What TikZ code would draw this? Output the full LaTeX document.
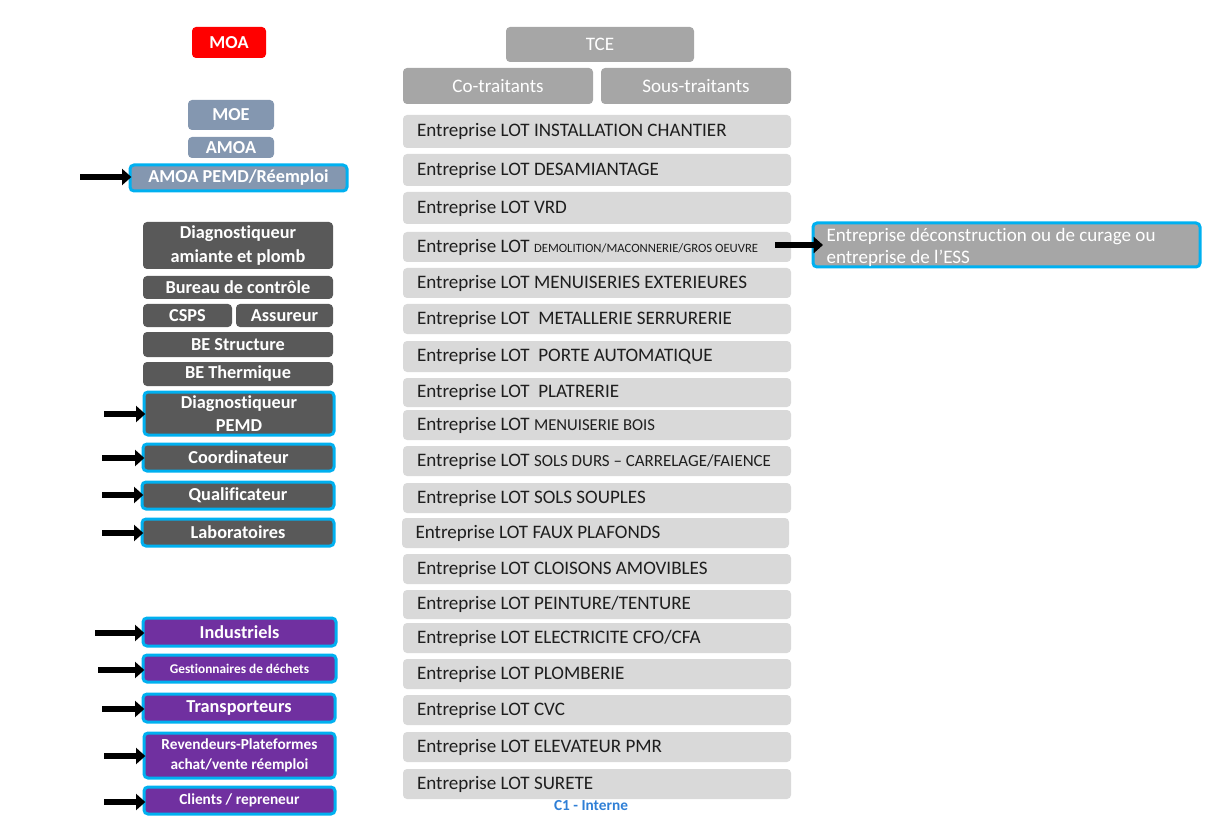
\documentclass[tikz,border=0pt]{standalone}
\usepackage{fontspec}
\setmainfont{Carlito}[Ligatures=NoCommon]
\usetikzlibrary{arrows.meta}
\definecolor{moaRed}{HTML}{FF0000}
\definecolor{slateC}{HTML}{8497B0}
\definecolor{darkC}{HTML}{595959}
\definecolor{purpC}{HTML}{7030A0}
\definecolor{lightC}{HTML}{D9D9D9}
\definecolor{midC}{HTML}{A6A6A6}
\definecolor{blueC}{HTML}{00B0F0}
\definecolor{txtC}{HTML}{1E1E1E}
\definecolor{tagC}{HTML}{2F7FD6}
\newcommand\bx[7]{\node[#6, minimum width={(#4-#2)*0.75pt}, minimum height={(#5-#3)*0.75pt}] (#1) at ({(#2+#4)/2},{(#3+#5)/2}) {#7};}
\tikzset{
  base/.style={rounded corners=3pt, inner sep=0pt, outer sep=0pt, align=center},
  leftf/.style={font=\fontsize{13.7}{18.5}\selectfont\bfseries},
  redbox/.style={base, leftf, fill=moaRed, text=white},
  slatebox/.style={base, leftf, fill=slateC, text=white},
  darkbox/.style={base, leftf, fill=darkC, text=white},
  purpbox/.style={base, leftf, fill=purpC, text=white},
  hl/.style={draw=blueC, line width=2.25pt},
  midbox/.style={base, fill=midC, text=white, font=\fontsize{14.3}{16.5}\selectfont},
  lotbox/.style={base, fill=lightC, text=txtC, align=flush left, text width=270pt, inner xsep=10.5pt, font=\fontsize{14.3}{16.5}\selectfont},
  arr/.style={line width=4pt, -{Triangle[length=7pt,width=12pt]}, black},
}
\begin{document}
\begin{tikzpicture}[x=0.75pt,y=-0.75pt]
\useasboundingbox (0,0) rectangle (1205,816);
% left column
\bx{moa}{192}{27}{266}{58}{redbox}{MOA}
\bx{moe}{188}{100}{274}{130}{slatebox}{MOE}
\bx{amoa}{188}{137}{274}{158}{slatebox}{AMOA}
\bx{amoap}{130}{165}{347}{191}{slatebox,hl}{AMOA PEMD/Réemploi}
\bx{diaga}{143}{222}{333}{269}{darkbox}{Diagnostiqueur\\amiante et plomb}
\bx{bureau}{143}{276}{333}{299}{darkbox}{Bureau de contrôle}
\bx{csps}{143}{304}{232}{327}{darkbox}{CSPS}
\bx{assur}{236}{304}{333}{327}{darkbox}{Assureur}
\bx{bes}{143}{332}{333}{357}{darkbox}{BE Structure}
\bx{bet}{143}{362}{333}{386}{darkbox}{BE Thermique}
\bx{diagp}{144}{392}{334}{435}{darkbox,hl,font=\fontsize{13.7}{17}\selectfont\bfseries}{Diagnostiqueur\\PEMD}
\bx{coord}{143}{444}{334}{471}{darkbox,hl}{Coordinateur}
\bx{qualif}{142}{482}{334}{509}{darkbox,hl}{Qualificateur}
\bx{labo}{142}{519}{334}{546}{darkbox,hl}{Laboratoires}
\bx{indus}{143}{618}{336}{646}{purpbox,hl}{Industriels}
\bx{gest}{143}{655}{336}{682}{purpbox,hl,font=\fontsize{10}{12}\selectfont\bfseries}{Gestionnaires de déchets}
\bx{transp}{143}{694}{335}{722}{purpbox,hl}{Transporteurs}
\bx{revend}{144}{733}{335}{778}{purpbox,hl,font=\fontsize{11.5}{15}\selectfont\bfseries}{Revendeurs-Plateformes\\achat/vente réemploi}
\bx{clients}{144}{787}{335}{814}{purpbox,hl,font=\fontsize{11.5}{14}\selectfont\bfseries}{Clients / repreneur}
% right column
\bx{tce}{506}{27}{694}{62}{midbox}{TCE}
\bx{cot}{403}{68}{593}{104}{midbox}{Co-traitants}
\bx{sous}{601}{68}{791}{104}{midbox}{Sous-traitants}
\bx{l1}{403}{115}{791}{148}{lotbox}{Entreprise LOT INSTALLATION CHANTIER}
\bx{l2}{403}{154}{791}{186}{lotbox}{Entreprise LOT DESAMIANTAGE}
\bx{l3}{403}{192}{791}{224}{lotbox}{Entreprise LOT VRD}
\bx{l4}{403}{232}{791}{262}{lotbox}{Entreprise LOT {\fontsize{9.5}{10}\selectfont DEMOLITION/MACONNERIE/GROS OEUVRE}}
\bx{l5}{403}{268}{791}{298}{lotbox}{Entreprise LOT MENUISERIES EXTERIEURES}
\bx{l6}{403}{304}{791}{334}{lotbox}{Entreprise LOT \ METALLERIE SERRURERIE}
\bx{l7}{403}{341}{791}{372}{lotbox}{Entreprise LOT \ PORTE AUTOMATIQUE}
\bx{l8}{403}{378}{791}{407}{lotbox}{Entreprise LOT \ PLATRERIE}
\bx{l9}{403}{410}{791}{440}{lotbox}{Entreprise LOT {\fontsize{12.5}{14}\selectfont MENUISERIE BOIS}}
\bx{l10}{403}{446}{791}{476}{lotbox}{Entreprise LOT {\fontsize{12.7}{14}\selectfont SOLS DURS – CARRELAGE/FAIENCE}}
\bx{l11}{403}{483}{791}{513}{lotbox}{Entreprise LOT SOLS SOUPLES}
\bx{l12}{402}{518}{789}{548}{lotbox,inner xsep=8.5pt}{Entreprise LOT FAUX PLAFONDS}
\bx{l13}{403}{554}{791}{584}{lotbox}{Entreprise LOT CLOISONS AMOVIBLES}
\bx{l14}{403}{590}{791}{619}{lotbox}{Entreprise LOT PEINTURE/TENTURE}
\bx{l15}{403}{623}{791}{653}{lotbox}{Entreprise LOT ELECTRICITE CFO/CFA}
\bx{l16}{403}{659}{791}{689}{lotbox}{Entreprise LOT PLOMBERIE}
\bx{l17}{403}{695}{791}{725}{lotbox}{Entreprise LOT CVC}
\bx{l18}{403}{732}{791}{762}{lotbox}{Entreprise LOT ELEVATEUR PMR}
\bx{l19}{403}{769}{791}{799}{lotbox}{Entreprise LOT SURETE}
\node[font=\fontsize{11.5}{13}\selectfont\bfseries, text=tagC, inner sep=0pt] (tag) at (591,806) {C1 - Interne};
\bx{decon}{813}{223}{1200}{267}{midbox,hl,align=flush left,text width=270pt,inner xsep=9.5pt,font=\fontsize{14.3}{16.5}\selectfont}{\rule{0pt}{13.5pt}Entreprise déconstruction ou de curage ou\\entreprise de l’ESS}
% arrows
\coordinate (s0) at (80,177);
\coordinate (s1) at (104,414);
\coordinate (s2) at (102,458);
\coordinate (s3) at (102,495);
\coordinate (s4) at (102,533);
\coordinate (s5) at (95,633);
\coordinate (s6) at (98,670);
\coordinate (s7) at (102,709);
\coordinate (s8) at (104,756);
\coordinate (s9) at (104,802);
\coordinate (s10) at (775,245);
\draw[arr] (s0) -- ([xshift=1pt]amoap.west|-s0);
\draw[arr] (s1) -- ([xshift=1pt]diagp.west|-s1);
\draw[arr] (s2) -- ([xshift=1pt]coord.west|-s2);
\draw[arr] (s3) -- ([xshift=1pt]qualif.west|-s3);
\draw[arr] (s4) -- ([xshift=1pt]labo.west|-s4);
\draw[arr] (s5) -- ([xshift=1pt]indus.west|-s5);
\draw[arr] (s6) -- ([xshift=1pt]gest.west|-s6);
\draw[arr] (s7) -- ([xshift=1pt]transp.west|-s7);
\draw[arr] (s8) -- ([xshift=1pt]revend.west|-s8);
\draw[arr] (s9) -- ([xshift=1pt]clients.west|-s9);
\draw[arr] (s10) -- ([xshift=7.5pt]decon.west|-s10);
\end{tikzpicture}
\end{document}
